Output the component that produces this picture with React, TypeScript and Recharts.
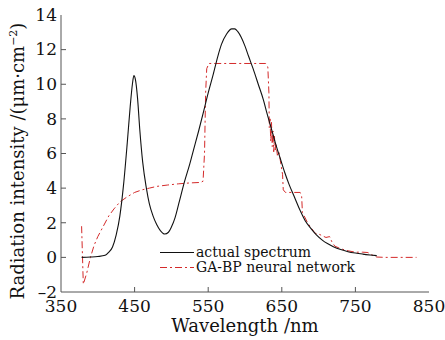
import React from "react";
import { LineChart, Line, XAxis, YAxis, Legend, Label } from "recharts";

// actual spectrum (black)
const actualWl = [378, 390, 400, 410, 415, 420, 425, 430, 435, 440, 444, 447, 449, 451, 454, 457, 461, 466, 470, 475, 480, 485, 491, 496, 500, 505, 510, 518, 525, 530, 537, 543, 550, 557, 563, 568, 575, 582, 586, 590, 595, 600, 605, 611, 618, 625, 630, 636, 642, 648, 654, 660, 667, 675, 682, 690, 697, 705, 712, 720, 730, 740, 750, 760, 770, 779];
const actualVal = [0, 0.02, 0.05, 0.12, 0.3, 0.6, 1.3, 2.4, 4.2, 6.6, 8.7, 10.0, 10.5, 10.3, 9.2, 7.4, 5.5, 4.0, 3.1, 2.4, 1.9, 1.55, 1.35, 1.45, 1.75, 2.3, 3.1, 4.4, 5.4, 6.2, 7.3, 8.3, 9.5, 10.6, 11.6, 12.3, 12.9, 13.2, 13.2, 13.05, 12.7, 12.2, 11.6, 10.9, 10.0, 9.1, 8.3, 7.4, 6.5, 5.7, 4.9, 4.2, 3.5, 2.7, 2.1, 1.65, 1.3, 1.0, 0.8, 0.62, 0.45, 0.33, 0.25, 0.19, 0.14, 0.1];

// GA-BP neural network (red dash-dot)
const gaWl = [378, 380.3, 385, 390, 395, 400, 407.5, 415, 422, 430, 440, 450, 460, 470, 480, 495, 510, 525, 540, 543, 545, 546.5, 548, 551, 560, 628, 631, 632.5, 633, 634, 635, 636, 637, 638, 639, 640, 641, 642, 644, 646, 648, 651, 652, 655, 675, 677, 678, 685, 690, 695, 700, 705, 710, 715, 718, 722, 730, 740, 750, 760, 767, 772, 779, 790, 833];
const gaVal = [1.8, -1.55, -0.9, 0.0, 0.7, 1.2, 1.8, 2.4, 2.8, 3.2, 3.5, 3.75, 3.9, 4.0, 4.1, 4.18, 4.25, 4.3, 4.33, 4.4, 6.0, 9.5, 10.9, 11.2, 11.2, 11.2, 11.0, 9.5, 7.5, 8.0, 6.7, 7.8, 6.4, 7.3, 6.1, 7.0, 6.2, 6.6, 5.9, 6.1, 5.6, 4.8, 3.9, 3.75, 3.75, 3.5, 2.6, 2.0, 1.7, 1.4, 1.35, 1.25, 1.15, 1.2, 0.9, 0.65, 0.5, 0.38, 0.3, 0.3, 0.28, 0.15, 0.02, 0, 0];

const xTicks = [350, 450, 550, 650, 750, 850];
const yTicks = [-2, 0, 2, 4, 6, 8, 10, 12, 14];

const actualData = actualWl.map((w, i) => ({ wl: w, v: actualVal[i] }));
const gaData = gaWl.map((w, i) => ({ wl: w, v: gaVal[i] }));

const FONT = "DejaVu Serif";
const AXIS = "#555";
const RED = "#d42a2a";
const TICK_MARGIN = 8;
const Y_MARGIN = 4;

const XTick = (props: any) => {
  const { x, y, payload } = props;
  const axisY = y - TICK_MARGIN;
  const edge = payload.value === 350 || payload.value === 850;
  return (
    <g>
      {!edge && <line x1={x} x2={x} y1={axisY} y2={axisY - 5} stroke={AXIS} />}
      <text x={x} y={y} dy="0.71em" textAnchor="middle" fontFamily={FONT} fontSize={17} fill="#111">
        {payload.value}
      </text>
    </g>
  );
};

const YTick = (props: any) => {
  const { x, y, payload } = props;
  const axisX = x + Y_MARGIN;
  const edge = payload.value === -2 || payload.value === 14;
  return (
    <g>
      {!edge && <line x1={axisX} x2={axisX + 5} y1={y} y2={y} stroke={AXIS} />}
      <text x={x} y={y} dy="0.34em" textAnchor="end" fontFamily={FONT} fontSize={17} fill="#111">
        {payload.value < 0 ? "\u2013" + Math.abs(payload.value) : payload.value}
      </text>
    </g>
  );
};

const YLabel = () => (
  <text
    x={0}
    y={0}
    transform="translate(24,161) rotate(-90)"
    textAnchor="middle"
    fontFamily={FONT}
    fontSize={18}
    fill="#111"
  >
    <tspan>Radiation intensity /(μm·cm</tspan>
    <tspan dy={-7} fontSize={11}>−2</tspan>
    <tspan dy={7}>)</tspan>
  </text>
);

const LegendBox = () => (
  <svg width={220} height={34} style={{ display: "block" }}>
    <line x1={2} x2={36} y1={9.5} y2={9.5} stroke="#111" strokeWidth={1} />
    <text x={38} y={14} fontFamily={FONT} fontSize={14} fill="#111">actual spectrum</text>
    <line x1={2} x2={36} y1={24.5} y2={24.5} stroke={RED} strokeWidth={1} strokeDasharray="7 3 2 3" />
    <text x={38} y={29} fontFamily={FONT} fontSize={14} fill="#111">GA-BP neural network</text>
  </svg>
);

export default function App() {
  return (
    <div style={{ position: "absolute", left: 0, top: 0, background: "#fff" }}>
      <LineChart width={445} height={340} margin={{ top: 15, right: 16, bottom: 0, left: 0 }}>
        <XAxis
          dataKey="wl"
          type="number"
          domain={[350, 850]}
          ticks={xTicks}
          allowDataOverflow
          tickSize={0}
          tickMargin={TICK_MARGIN}
          height={48}
          stroke={AXIS}
          tick={<XTick />}
        >
          <Label
            value="Wavelength /nm"
            position="insideBottom"
            offset={8}
            style={{ fontFamily: FONT, fontSize: 18, fill: "#111" }}
          />
        </XAxis>
        <XAxis xAxisId="top" orientation="top" type="number" domain={[350, 850]} height={0} tick={false} tickLine={false} stroke={AXIS} />
        <YAxis
          type="number"
          domain={[-2, 14]}
          ticks={yTicks}
          allowDataOverflow
          tickSize={0}
          tickMargin={Y_MARGIN}
          width={61}
          stroke={AXIS}
          tick={<YTick />}
          label={<YLabel />}
        />
        <YAxis yAxisId="right" orientation="right" type="number" domain={[-2, 14]} width={0} tick={false} tickLine={false} stroke={AXIS} />
        <Legend
          layout="horizontal"
          verticalAlign="middle"
          align="center"
          content={<LegendBox />}
          wrapperStyle={{ left: 158, top: 243, width: 220, height: 34 }}
        />
        <Line
          data={gaData}
          dataKey="v"
          type="linear"
          stroke={RED}
          strokeWidth={1}
          strokeDasharray="7 3 2 3"
          dot={false}
          isAnimationActive={false}
        />
        <Line
          data={actualData}
          dataKey="v"
          type="monotone"
          stroke="#111"
          strokeWidth={1.1}
          dot={false}
          isAnimationActive={false}
        />
      </LineChart>
    </div>
  );
}
